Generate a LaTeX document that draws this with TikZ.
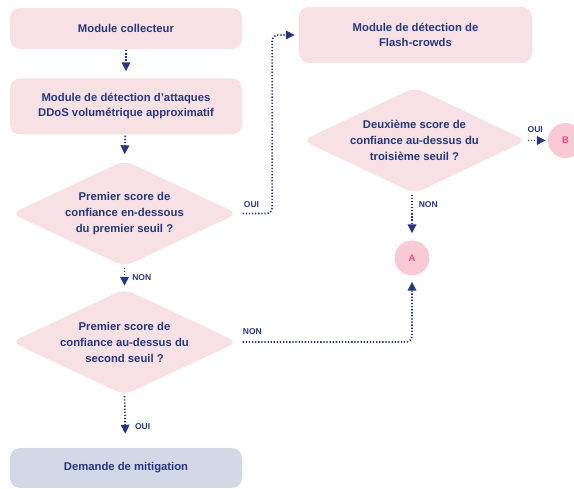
\documentclass[tikz,border=0pt]{standalone}
\usepackage{fontspec}
\setmainfont{Liberation Sans}
\usetikzlibrary{shapes.geometric,arrows.meta}
\definecolor{ink}{HTML}{27377F}
\definecolor{pinkbox}{HTML}{F7E1E4}
\definecolor{greybox}{HTML}{D3D8E6}
\definecolor{dotpink}{HTML}{F9CAD5}
\definecolor{letterpink}{HTML}{EC4D79}

\begin{document}
\begin{tikzpicture}[x=1pt,y=-1pt,
  box/.style={fill=pinkbox,rounded corners=10pt,minimum width=232pt,align=center,text=ink,font=\fontsize{11.3}{15}\selectfont\bfseries},
  decision/.style={diamond,fill=pinkbox,rounded corners=9pt,inner sep=0pt,minimum width=226pt,minimum height=106pt},
  question/.style={align=center,text=ink,font=\fontsize{11.3}{16}\selectfont\bfseries},
  link/.style={ink,line width=1.7pt,dash pattern=on 1.3pt off 1.8pt,-{Triangle[length=9pt,width=8.5pt]}},
  tag/.style={text=ink,font=\fontsize{8.5}{10}\selectfont\bfseries,inner sep=1pt},
  jump/.style={circle,fill=dotpink,minimum size=35pt,inner sep=0pt,text=letterpink,font=\fontsize{9.5}{10}\selectfont\bfseries}]
\useasboundingbox (0,0) rectangle (574,489);

% left column
\node (coll) [box,minimum height=41pt] at (126,28.5) {Module collecteur};
\node (ddos) [box,minimum height=56pt] at (126,106.5) {Module de détection d’attaques\\DDoS volumétrique approximatif};
\node (d1) [decision] at (124.5,213.5) {};
\node (q1) [question] at (d1) {Premier score de\\confiance en-dessous\\du premier seuil ?};
\node (d2) [decision] at (124.5,342) {};
\node (q2) [question] at (d2) {Premier score de\\confiance au-dessus du\\second seuil ?};
\node (mitig) [box,fill=greybox,minimum height=40pt] at (126,468) {Demande de mitigation};

% right column
\node (flash) [box,minimum height=56pt,minimum width=233pt] at (415.5,35) {Module de détection de\\Flash-crowds};
\node (d3) [decision,minimum width=224pt] at (414.5,140.5) {};
\node (q3) [question] at (d3) {Deuxième score de\\confiance au-dessus du\\troisième seuil ?};
\node (A) [jump] at (412,258) {A};
\node (B) [jump] at (565.5,140.5) {B};

% connectors
\draw[link,shorten <=1pt,shorten >=7pt] (coll) -- (ddos);
\draw[link,shorten <=1pt,shorten >=6pt] (ddos) -- (d1.north);
\draw[link,shorten <=1pt,shorten >=3pt] (d1.south) -- node[tag,right=6pt]{NON} (d2.north);
\draw[link,shorten <=1pt,shorten >=14pt] (d2.south) -- node[tag,pos=0.6,right=8pt]{OUI} (mitig);
\draw[link,shorten <=5pt,shorten >=4pt,rounded corners=6pt] (d1.east) -- ++(34.5,0) |- (flash.west);
\node (oui1) [tag,anchor=south west] at ([xshift=5pt,yshift=5pt]d1.east) {OUI};
\draw[link,shorten <=5pt,shorten >=6pt,rounded corners=6pt] (d2.east) -| (A.south);
\node (non2) [tag,anchor=south west] at ([xshift=4pt,yshift=6pt]d2.east) {NON};
\draw[link,shorten <=1pt,shorten >=7pt] (A |- d3.south) -- node[tag,pos=0.23,right=5pt]{NON} (A.north);
\draw[link,shorten <=1pt,shorten >=2pt] (d3.east) -- node[tag,above=6pt,xshift=-2pt]{OUI} (B.west);
\end{tikzpicture}
\end{document}
